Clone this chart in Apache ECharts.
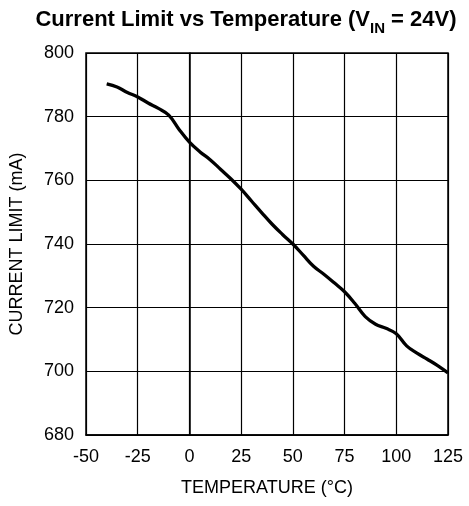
<!DOCTYPE html>
<html><head><meta charset="utf-8">
<script src="https://cdn.jsdelivr.net/npm/echarts@6/dist/echarts.min.js"></script>
<style>html,body{margin:0;padding:0;background:#fff}#c{width:469px;height:506px}</style>
</head><body><div id="c"></div>
<script>
const temps = [-40,-35,-30,-25,-20,-15,-10,-5,0,5,10,15,20,25,30,35,40,45,50,55,60,65,70,75,80,85,90,95,100,105,110,115,120,125];
const currents = [790.3,789.3,787.6,786.2,784.3,782.6,780.5,776.0,772.0,769.0,766.5,763.5,760.5,757.2,753.5,749.8,746.2,743.0,740.0,736.5,733.0,730.5,727.8,725.0,721.3,717.2,714.8,713.5,711.8,708.0,705.7,703.8,701.8,699.5];
const xTicks = {min:-50, max:125, step:25};
const yTicks = {min:680, max:800, step:20};

const chart = echarts.init(document.getElementById('c'), null, {renderer:'canvas'});
const font = 'Liberation Sans, Arial, Helvetica, sans-serif';
chart.setOption({
  animation:false,
  backgroundColor:'#fff',
  title:{
    text:'{a|Current Limit vs Temperature (V}{s|IN}{a| = 24V)}',
    left:241, textAlign:'center', top:4,
    textStyle:{
      rich:{
        a:{fontFamily:font, fontWeight:'bold', fontSize:22, color:'#000', lineHeight:26, verticalAlign:'top'},
        s:{fontFamily:font, fontWeight:'bold', fontSize:15, color:'#000', lineHeight:26, padding:[12,0,0,0], verticalAlign:'top'}
      }
    }
  },
  grid:{left:86, right:21, top:53, bottom:71, show:true, borderColor:'#000', borderWidth:1.5},
  xAxis:{
    type:'value', min:xTicks.min, max:xTicks.max, interval:xTicks.step,
    name:'TEMPERATURE (°C)', nameLocation:'middle', nameGap:44,
    nameTextStyle:{fontFamily:font, fontSize:18, color:'#000'},
    axisLine:{show:true, lineStyle:{color:'#000', width:1.5}},
    axisTick:{show:false},
    axisLabel:{fontFamily:font, fontSize:18, color:'#000', margin:13},
    splitLine:{show:true, lineStyle:{color:'#000', width:1.2}}
  },
  yAxis:{
    type:'value', min:yTicks.min, max:yTicks.max, interval:yTicks.step,
    name:'CURRENT LIMIT (mA)', nameLocation:'middle', nameGap:60,
    nameTextStyle:{fontFamily:font, fontSize:18, color:'#000'},
    axisLine:{show:true, lineStyle:{color:'#000', width:1.5}},
    axisTick:{show:false},
    axisLabel:{fontFamily:font, fontSize:18, color:'#000', margin:12},
    splitLine:{show:true, lineStyle:{color:'#000', width:1.2}}
  },
  series:[{
    type:'line', data:temps.map((t,i)=>[t,currents[i]]),
    smooth:0.4, showSymbol:false, symbol:'none',
    lineStyle:{color:'#000', width:3.3}
  }]
});
</script></body></html>
